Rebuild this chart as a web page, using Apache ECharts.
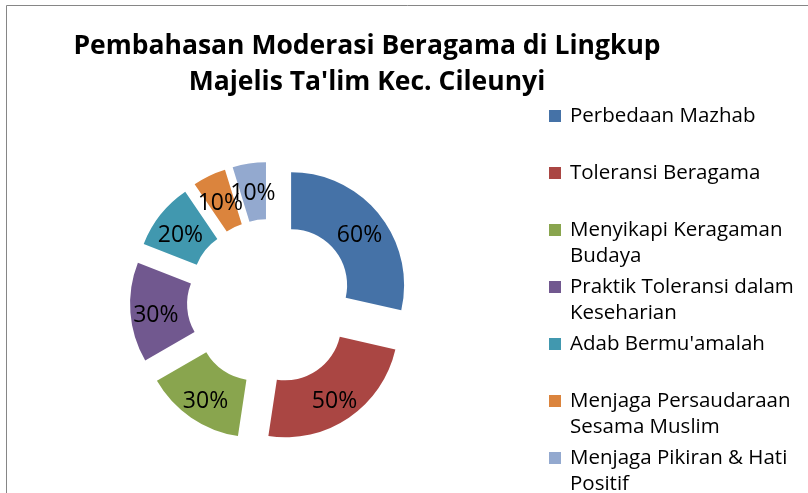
<!DOCTYPE html>
<html>
<head>
<meta charset="utf-8">
<script src="https://cdn.jsdelivr.net/npm/echarts@6/dist/echarts.min.js"></script>
<style>
	html, body { margin: 0; padding: 0; background: #fff; }
	#chart { width: 808px; height: 493px; }
</style>
</head>
<body>
<div id="chart"></div>
<script>
var categories = ['Perbedaan Mazhab', 'Toleransi Beragama', 'Menyikapi Keragaman Budaya',
	'Praktik Toleransi dalam Keseharian', "Adab Bermu'amalah",
	'Menjaga Persaudaraan Sesama Muslim', 'Menjaga Pikiran & Hati Positif'];
var values = [60, 50, 30, 30, 20, 10, 10];
var colors = ['#4572A7', '#AA4643', '#89A54E', '#71588F', '#4198AF', '#DB843D', '#93A9CF'];

// legend line breaks as in the original
var legendLines = {
	'Perbedaan Mazhab': 'Perbedaan Mazhab\n ',
	'Toleransi Beragama': 'Toleransi Beragama\n ',
	'Menyikapi Keragaman Budaya': 'Menyikapi Keragaman\nBudaya',
	'Praktik Toleransi dalam Keseharian': 'Praktik Toleransi dalam\nKeseharian',
	"Adab Bermu'amalah": "Adab Bermu'amalah\n ",
	'Menjaga Persaudaraan Sesama Muslim': 'Menjaga Persaudaraan\nSesama Muslim',
	'Menjaga Pikiran & Hati Positif': 'Menjaga Pikiran & Hati\nPositif'
};

var pieData = [];
for(var i=0; i<categories.length; i++){
	pieData.push({ name: categories[i], value: values[i], selected: true });
}

// square sits next to the first text line (box is 16 x 52)
var legendIcon = 'path://M16,0L16,0ZM0,7L12,7L12,19L0,19ZM16,52L16,52Z';

var chart = echarts.init(document.getElementById('chart'));
chart.setOption({
	animation: false,
	color: colors,
	title: {
		text: 'Pembahasan Moderasi Beragama di Lingkup\nMajelis Ta\'lim Kec. Cileunyi',
		left: 362,
		top: 23,
		textAlign: 'center',
		textStyle: {
			fontFamily: 'Open Sans',
			fontWeight: 'bold',
			fontSize: 26.5,
			lineHeight: 36,
			color: '#000'
		}
	},
	graphic: [{
		type: 'rect',
		shape: { x: 6.5, y: 5.5, width: 900, height: 600 },
		style: { fill: 'none', stroke: '#868686', lineWidth: 1 },
		silent: true
	}],
	legend: {
		orient: 'vertical',
		left: 544,
		top: 98,
		height: 520,
		itemWidth: 16,
		itemHeight: 52,
		itemGap: 5,
		icon: legendIcon,
		symbolKeepAspect: false,
		formatter: function(name){ return legendLines[name]; },
		textStyle: {
			fontFamily: 'Open Sans',
			fontSize: 20.5,
			lineHeight: 26,
			color: '#000'
		},
		selectedMode: false
	},
	series: [{
		type: 'pie',
		center: [270, 302],
		radius: [56, 113],
		startAngle: 90,
		clockwise: true,
		avoidLabelOverlap: false,
		selectedMode: 'multiple',
		selectedOffset: 27,
		label: {
			show: true,
			position: 'inside',
			formatter: '{c}%',
			fontFamily: 'Open Sans',
			fontSize: 23,
			color: '#000'
		},
		labelLayout: { hideOverlap: false, dy: 5 },
		labelLine: { show: false },
		emphasis: { disabled: true },
		data: pieData
	}]
});
</script>
</body>
</html>
